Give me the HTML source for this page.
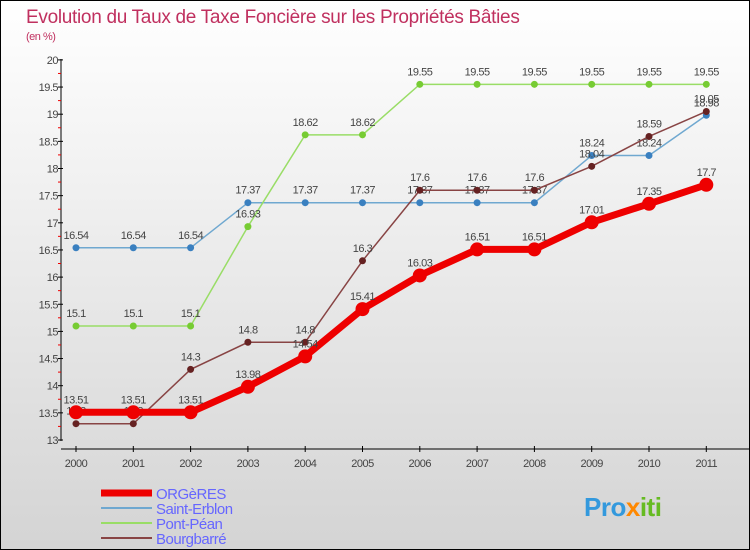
<!DOCTYPE html>
<html><head><meta charset="utf-8"><style>
body{margin:0}
#c{width:748px;height:548px;border:1px solid #000;background:linear-gradient(#fff,#d4d4d4);position:relative;overflow:hidden;font-family:"Liberation Sans",sans-serif}
</style></head><body>
<div id="c">
<svg id="s" width="748" height="548"></svg>
</div>
<script>
const years=["2000","2001","2002","2003","2004","2005","2006","2007","2008","2009","2010","2011"];
const orgeres=[13.51,13.51,13.51,13.98,14.54,15.41,16.03,16.51,16.51,17.01,17.35,17.7];
const saintErblon=[16.54,16.54,16.54,17.37,17.37,17.37,17.37,17.37,17.37,18.24,18.24,18.98];
const pontPean=[15.1,15.1,15.1,16.93,18.62,18.62,19.55,19.55,19.55,19.55,19.55,19.55];
const bourgbarre=[13.3,13.3,14.3,14.8,14.8,16.3,17.6,17.6,17.6,18.04,18.59,19.05];
const yTicks=["13","13.5","14","14.5","15","15.5","16","16.5","17","17.5","18","18.5","19","19.5","20"];
const NS="http://www.w3.org/2000/svg",s=document.getElementById('s');
const X=i=>75+i*57.3, Y=v=>439-(v-13)*54.3;
function el(t,a,p){const e=document.createElementNS(NS,t);for(const k in a)e.setAttribute(k,a[k]);(p||s).appendChild(e);return e;}
function tx(x,y,str,o){const e=el('text',Object.assign({x:x,y:y,'font-size':11,fill:'#444','letter-spacing':'-0.5'},o||{}));e.textContent=str;return e;}
let t=tx(25,22,"Evolution du Taux de Taxe Foncière sur les Propriétés Bâties",{'font-size':19,fill:'#c0305f','letter-spacing':'-0.3'});

t=tx(25,39,"(en %)",{'font-size':11,fill:'#c0305f'});

let ax=el('line',{x1:60,y1:58,x2:60,y2:440,stroke:'#000'});

ax=el('line',{x1:60,y1:448,x2:748,y2:448,stroke:'#000'});

yTicks.forEach((l,i)=>{const y=Y(+l);el('line',{x1:57,y1:y,x2:62,y2:y,stroke:'#000'});
 if(i<yTicks.length-1)el('line',{x1:57,y1:y-13.6,x2:60,y2:y-13.6,stroke:'#e00'});
 const e=tx(57,y+4,l,{'text-anchor':'end'});});
years.forEach((l,i)=>{el('line',{x1:X(i),y1:445,x2:X(i),y2:451,stroke:'#000'});
 const e=tx(X(i),466,l,{'text-anchor':'middle'});});
function series(d,color,w,r,name,dot){
 const g=el('g',{});
 el('polyline',{points:d.map((v,i)=>X(i)+','+Y(v)).join(' '),fill:'none',stroke:color,'stroke-width':w},g);
 d.forEach((v,i)=>{const c=el('circle',{cx:X(i),cy:Y(v),r:r,fill:dot},g);
  const e=tx(X(i),Y(v)-9,String(v),{'text-anchor':'middle'},g);});
}
series(saintErblon,'#6fa8d0',1.5,3.5,'saint-erblon','#3a80c0');
series(pontPean,'#99dd66',1.5,3.5,'pont-pean','#77cc33');
series(bourgbarre,'#884444',1.5,3.5,'bourgbarre','#662222');
series(orgeres,'#ee0000',7,7,'orgeres','#ee0000');
const leg=[['ORGèRES','#ee0000',7],['Saint-Erblon','#6fa8d0',2],['Pont-Péan','#99dd66',2],['Bourgbarré','#884444',2]];
leg.forEach((l,i)=>{const y=492+i*15;const g=el('g',{});
 el('line',{x1:100,y1:y,x2:151,y2:y,stroke:l[1],'stroke-width':l[2]},g);
 tx(155,y+6,l[0],{'font-size':15,fill:'#6666ff'},g);});
t=tx(583,515,"Pro",{'font-size':26,'font-weight':'bold',fill:'#3399dd'});

const t2=el('tspan',{fill:'#ff8800'},t);t2.textContent="x";const t3=el('tspan',{fill:'#66bb22'},t);t3.textContent="iti";
</script>
</body></html>
